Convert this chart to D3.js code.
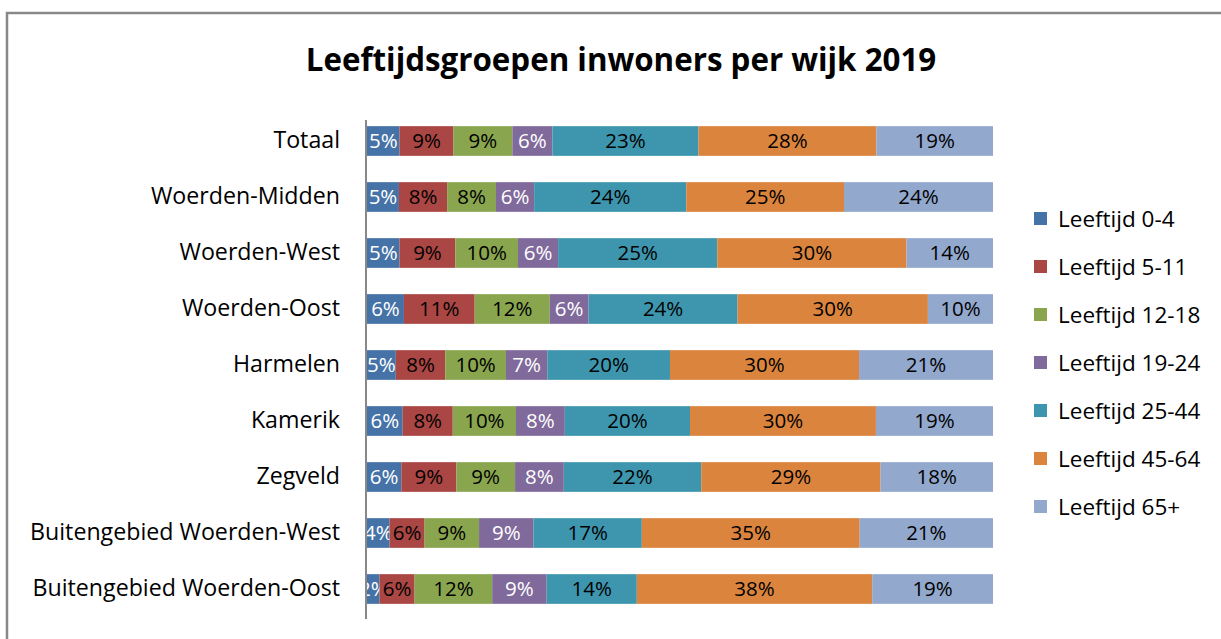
<!DOCTYPE html>
<html>
<head>
<meta charset="utf-8">
<script src="https://cdn.jsdelivr.net/npm/d3@7"></script>
<style>
  body { margin: 0; background: #fff; }
  svg { display: block; font-family: "Open Sans", "Noto Sans", sans-serif; }
</style>
</head>
<body>
<svg id="chart" width="1221" height="639"></svg>
<script>
// wijken, top to bottom
const categories = ['Totaal', 'Woerden-Midden', 'Woerden-West', 'Woerden-Oost', 'Harmelen',
  'Kamerik', 'Zegveld', 'Buitengebied Woerden-West', 'Buitengebied Woerden-Oost'];

const seriesNames = ['Leeftijd 0-4', 'Leeftijd 5-11', 'Leeftijd 12-18', 'Leeftijd 19-24',
  'Leeftijd 25-44', 'Leeftijd 45-64', 'Leeftijd 65+'];

// share per age group (%), one array per series, same order as categories
const age0_4   = [5.2, 5.1, 5.2, 5.9, 4.6, 5.7, 5.5, 3.6, 2.0];
const age5_11  = [8.6, 7.7, 8.9, 11.3, 7.9, 8.0, 8.8, 5.6, 5.6];
const age12_18 = [9.4, 7.8, 10.0, 12.0, 9.7, 10.1, 9.4, 8.7, 12.4];
const age19_24 = [6.4, 6.1, 6.4, 6.2, 6.6, 7.8, 7.8, 8.7, 8.7];
const age25_44 = [23.3, 24.3, 25.4, 23.8, 19.6, 20.0, 22.0, 17.3, 14.4];
const age45_64 = [28.4, 25.2, 30.2, 30.4, 30.2, 29.7, 28.7, 34.8, 37.6];
const age65p   = [18.6, 23.8, 13.8, 10.4, 21.4, 18.7, 18.0, 21.3, 19.3];

const seriesValues = [age0_4, age5_11, age12_18, age19_24, age25_44, age45_64, age65p];
const colors = ['#4572A7', '#AA4643', '#89A54E', '#80699B', '#3D96AE', '#DB843D', '#92A8CD'];
const labelColors = ['#fff', '#000', '#000', '#fff', '#000', '#000', '#000'];

const svg = d3.select('#chart');

// outer frame (right and bottom edges fall outside the picture)
svg.append('rect')
    .attr('x', 7).attr('y', 13)
    .attr('width', 1240).attr('height', 660)
    .attr('fill', 'none')
    .attr('stroke', '#888').attr('stroke-width', 2.5);

// title
svg.append('text')
    .attr('x', 621).attr('y', 71)
    .attr('text-anchor', 'middle')
    .attr('font-size', 31.3).attr('font-weight', 'bold')
    .text('Leeftijdsgroepen inwoners per wijk 2019');

// rows for the stack
const rows = categories.map((c, i) => {
  const r = { wijk: c };
  seriesNames.forEach((s, j) => { r[s] = seriesValues[j][i]; });
  return r;
});

const stacked = d3.stack()
    .keys(seriesNames)
    .offset(d3.stackOffsetExpand)(rows);

const x = d3.scaleLinear().domain([0, 1]).range([367, 993]);
const y = d3.scaleBand().domain(categories).range([113, 617]).paddingInner(0.47).paddingOuter(0.235);

const fmt = d3.format('.0f');

const groups = svg.append('g').selectAll('g')
    .data(stacked)
    .enter().append('g')
    .attr('fill', (d, i) => colors[i]);

groups.selectAll('rect')
    .data(d => d)
    .enter().append('rect')
    .attr('x', d => x(d[0]))
    .attr('y', d => y(d.data.wijk))
    .attr('width', d => x(d[1]) - x(d[0]))
    .attr('height', y.bandwidth());

groups.each(function (s, si) {
  d3.select(this).selectAll('text')
      .data(s)
      .enter().append('text')
      .attr('x', d => (x(d[0]) + x(d[1])) / 2)
      .attr('y', d => y(d.data.wijk) + y.bandwidth() / 2)
      .attr('dy', '0.36em')
      .attr('text-anchor', 'middle')
      .attr('font-size', 20.5)
      .attr('fill', labelColors[si])
      .text(d => fmt(d.data[s.key]) + '%');
});

// category axis
const axis = svg.append('g')
    .attr('transform', 'translate(366,0)')
    .call(d3.axisLeft(y).tickSize(0).tickPadding(26));
axis.select('.domain').attr('stroke', '#888').attr('stroke-width', 2)
    .attr('d', 'M0,120V619');
axis.selectAll('text')
    .attr('font-size', 23.2)
    .attr('font-family', '"Open Sans", "Noto Sans", sans-serif')
    .attr('fill', '#000');

// legend
const legend = svg.append('g').selectAll('g')
    .data(seriesNames)
    .enter().append('g')
    .attr('transform', (d, i) => 'translate(1034,' + (212 + i * 48) + ')');

legend.append('rect')
    .attr('width', 13).attr('height', 13)
    .attr('fill', (d, i) => colors[i]);

legend.append('text')
    .attr('x', 24).attr('y', 7)
    .attr('dy', '0.36em')
    .attr('font-size', 22.5)
    .text(d => d);
</script>
</body>
</html>
